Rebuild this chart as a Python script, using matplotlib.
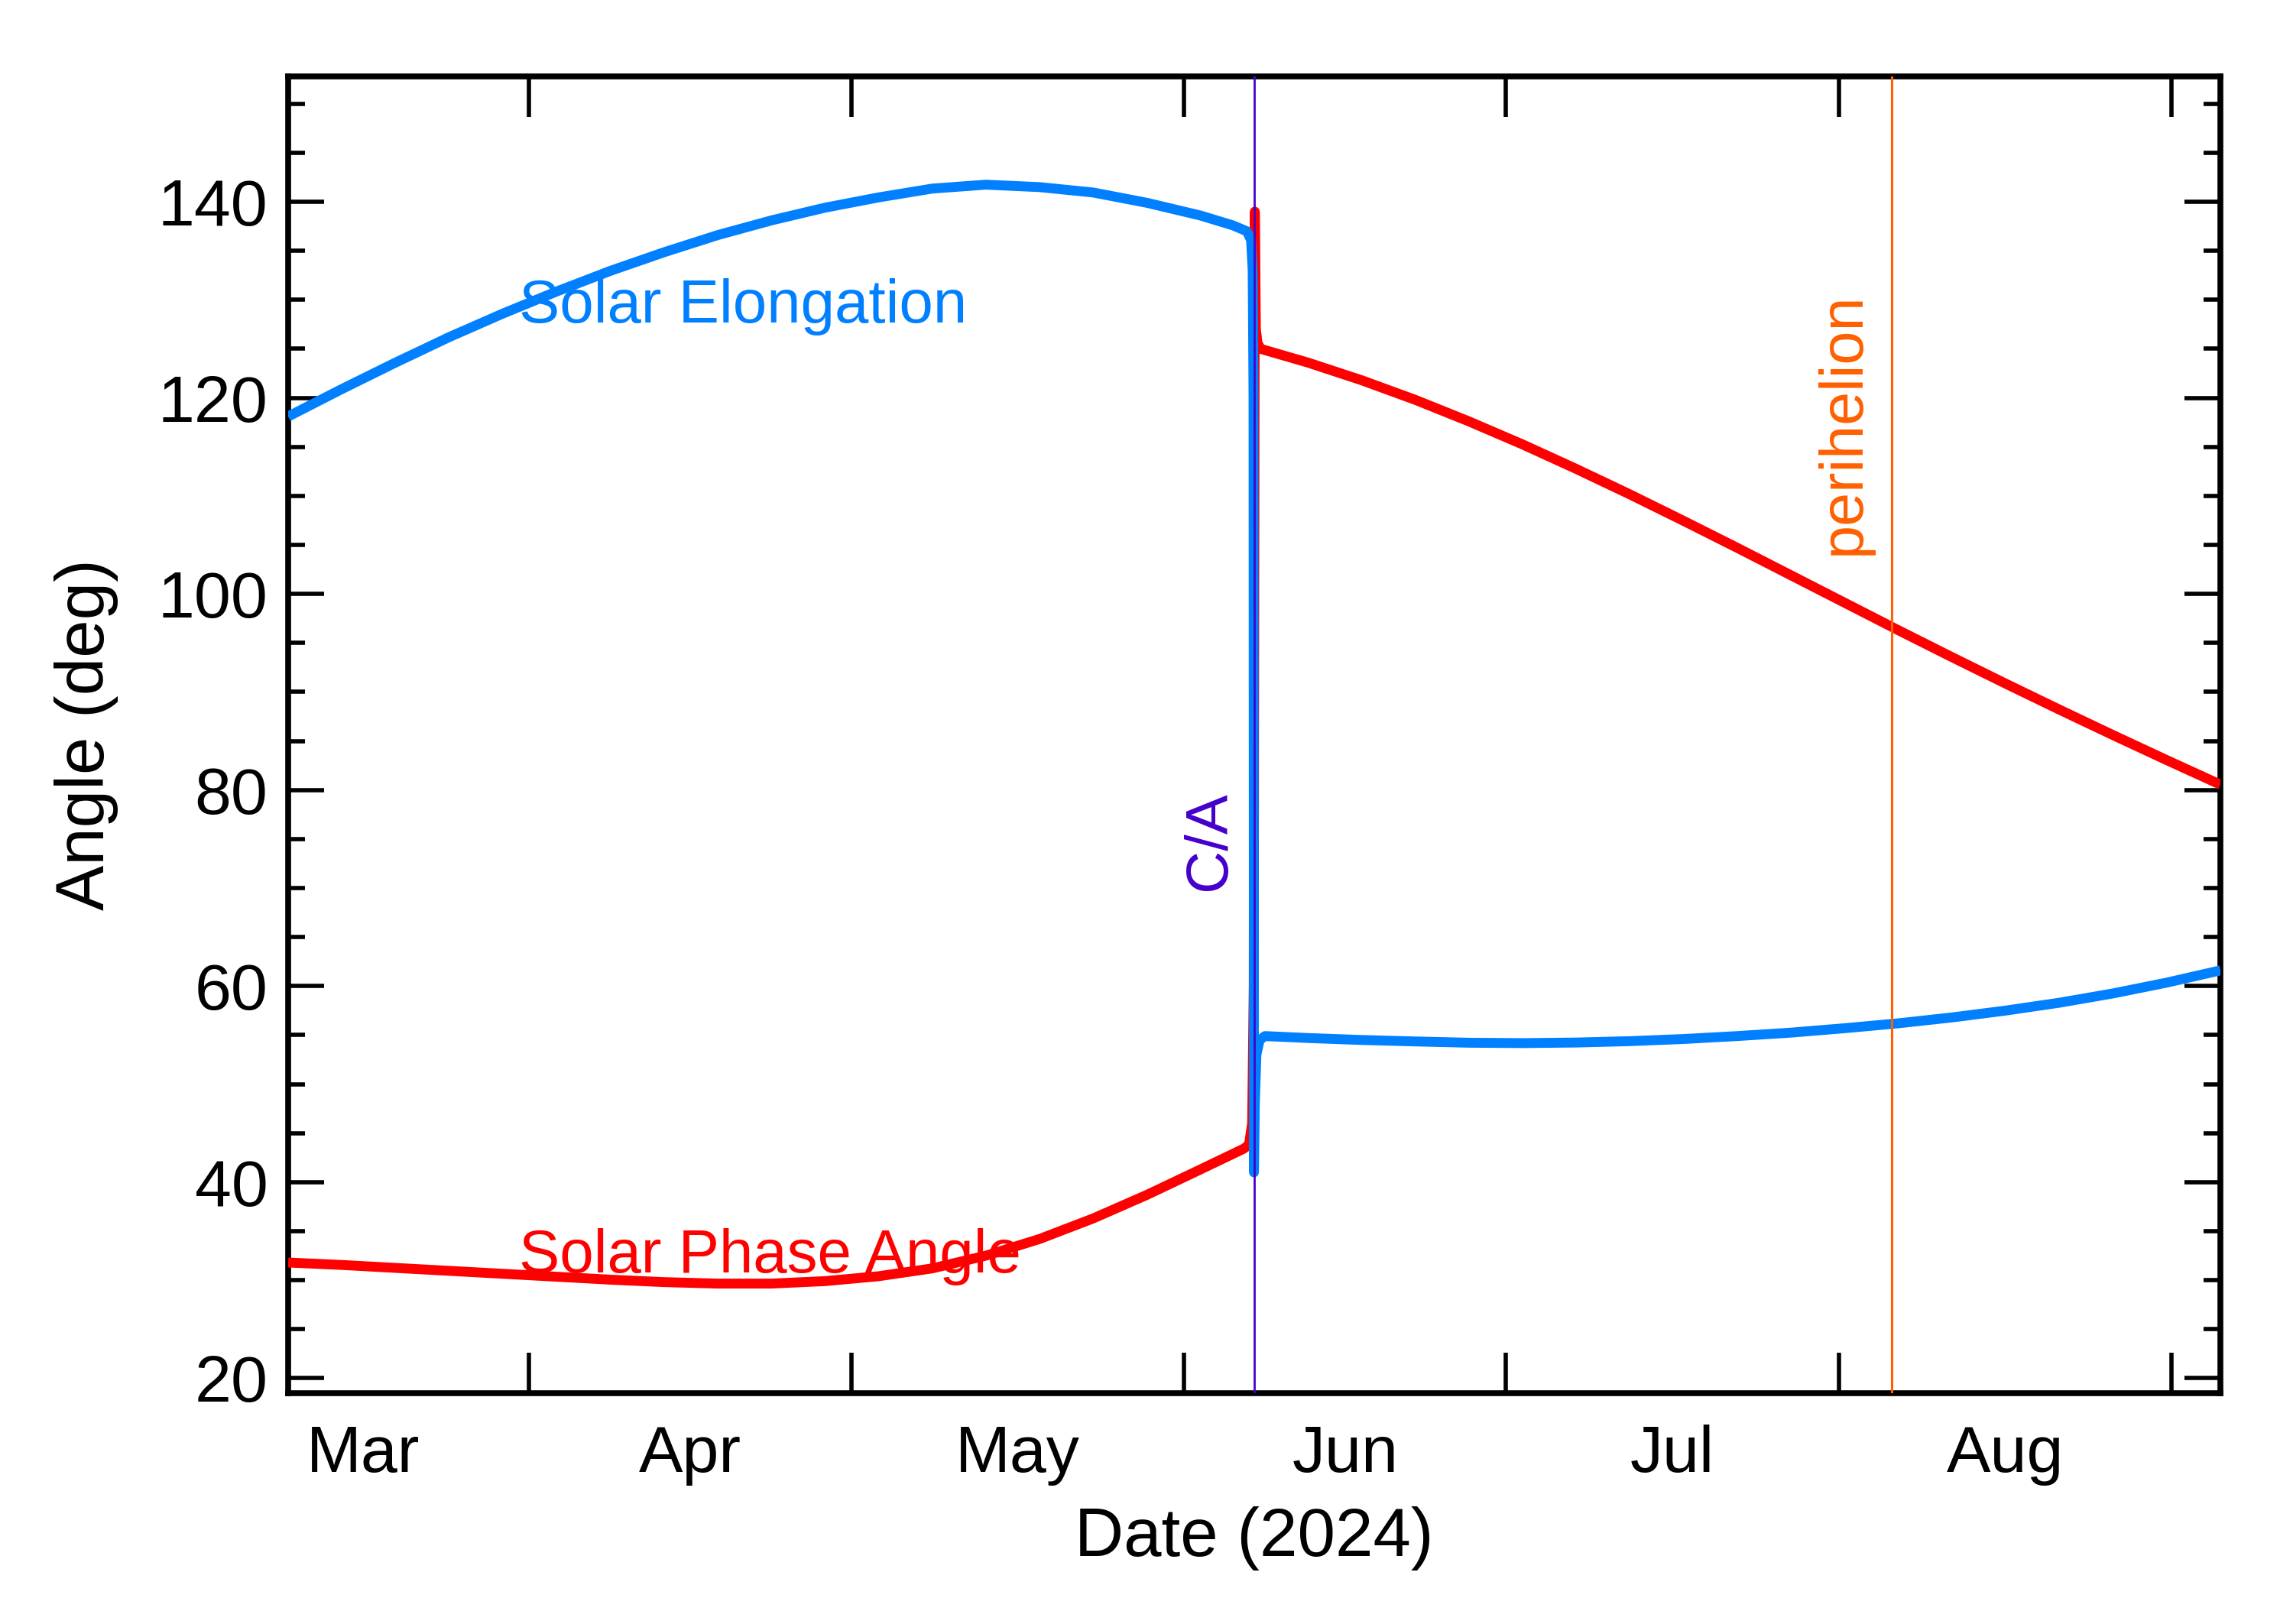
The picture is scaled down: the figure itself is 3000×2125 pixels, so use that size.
import matplotlib
matplotlib.use("Agg")
import matplotlib.pyplot as plt
from datetime import datetime, timedelta

plt.rcParams['font.family'] = ['Liberation Sans', 'DejaVu Sans']

# ---- data (days counted from the left edge of the plot) ----
START = datetime(2024, 3, 9, 13, 0)
SPAN_DAYS = 180.0
CA_DAY = 90.0
PERI_DAY = 149.36

elong_days = [0, 5, 10, 15, 20, 25, 30, 35, 40, 45, 50, 55, 60, 65, 70, 75, 80,
              85, 88, 89.3, 89.7, 89.85, 89.93, 89.97, 90.05, 90.2, 90.5, 91,
              95, 100, 105, 110, 115, 120, 125, 130, 135, 140, 145, 150,
              155, 160, 165, 170, 175, 180]
elong_vals = [118.1, 120.9, 123.6, 126.2, 128.6, 130.85, 132.95, 134.85, 136.6,
              138.1, 139.4, 140.45, 141.35, 141.75, 141.5, 140.95, 139.9,
              138.6, 137.6, 137.0, 136.1, 133.0, 120.0, 41.0, 48.0, 53.0, 54.5, 54.9,
              54.7, 54.5, 54.35, 54.22, 54.18, 54.24, 54.38, 54.6, 54.9, 55.25,
              55.7, 56.2, 56.8, 57.5, 58.3, 59.25, 60.35, 61.6]

phase_days = [0, 5, 10, 15, 20, 25, 30, 35, 40, 45, 50, 55, 60, 65, 70, 75, 80,
              85, 87, 89, 89.5, 89.8, 89.95, 90.05, 90.15, 90.3, 90.6,
              95, 100, 105, 110, 115, 120, 125, 130, 135, 140, 145, 150,
              155, 160, 165, 170, 175, 180]
phase_vals = [31.8, 31.55, 31.25, 30.95, 30.65, 30.35, 30.05, 29.8, 29.65, 29.65,
              29.9, 30.4, 31.2, 32.5, 34.2, 36.3, 38.7, 41.3, 42.35, 43.4, 43.8,
              46.0, 60.0, 139.0, 127.0, 125.6, 125.0,
              123.6, 121.8, 119.8, 117.6, 115.25, 112.75, 110.15, 107.45, 104.7,
              101.9, 99.1, 96.3, 93.55, 90.85, 88.2, 85.6, 83.05, 80.55]

month_starts = [datetime(2024, m, 1) for m in (4, 5, 6, 7, 8, 9)]
month_mids = [datetime(2024, 3, 16, 12), datetime(2024, 4, 16), datetime(2024, 5, 16, 12),
              datetime(2024, 6, 16), datetime(2024, 7, 16, 12), datetime(2024, 8, 16, 12)]
month_labels = ['Mar', 'Apr', 'May', 'Jun', 'Jul', 'Aug']

y_major = [20, 40, 60, 80, 100, 120, 140]
y_minor = [25, 30, 35, 45, 50, 55, 65, 70, 75, 85, 90, 95, 105, 110, 115, 125, 130, 135, 145, 150]

BLUE = '#0080ff'
RED = '#ff0000'
PURPLE = '#4400cc'
ORANGE = '#ff6000'


def d(day):
    return START + timedelta(days=day)


fig = plt.figure(figsize=(30, 21.25), dpi=100)
ax = fig.add_axes([0.12567, 0.14231, 0.84267, 0.81068])

ax.plot([d(x) for x in phase_days], phase_vals, color=RED, lw=9.3,
        solid_joinstyle='round', solid_capstyle='butt', zorder=3)
ax.plot([d(x) for x in elong_days], elong_vals, color=BLUE, lw=9.3,
        solid_joinstyle='round', solid_capstyle='butt', zorder=4)

ax.axvline(d(CA_DAY), color=PURPLE, lw=2.0, zorder=5)
ax.axvline(d(PERI_DAY), color=ORANGE, lw=2.2, zorder=5)

ax.text(d(21.5), 127.7, 'Solar Elongation', color=BLUE, fontsize=57.5,
        ha='left', va='baseline', zorder=6)
ax.text(d(21.5), 30.8, 'Solar Phase Angle', color=RED, fontsize=57.5,
        ha='left', va='baseline', zorder=6)
ax.text(d(87.3), 69.8, 'C/A', color=PURPLE, fontsize=56, rotation=90,
        rotation_mode='anchor', ha='left', va='baseline', zorder=6)
ax.text(d(146.4), 104.0, 'perihelion', color=ORANGE, fontsize=57, rotation=90,
        rotation_mode='anchor', ha='left', va='baseline', zorder=6)

ax.set_xlim(d(0), d(SPAN_DAYS))
ax.set_ylim(18.5, 152.8)

ax.set_xticks(month_starts)
ax.set_xticklabels([])
ax.set_xticks(month_mids, minor=True)
ax.set_xticklabels(month_labels, minor=True)
ax.set_yticks(y_major)
ax.set_yticklabels([str(v) for v in y_major])
ax.set_yticks(y_minor, minor=True)

for s in ax.spines.values():
    s.set_linewidth(5.5)

ax.tick_params(axis='x', which='major', direction='in', length=38, width=4,
               top=True, bottom=True)
ax.tick_params(axis='x', which='minor', direction='in', length=0, width=0,
               top=False, bottom=True, labelsize=62, pad=30)
ax.tick_params(axis='y', which='major', direction='in', length=34, width=4,
               left=True, right=True, labelsize=62, pad=19)
ax.tick_params(axis='y', which='minor', direction='in', length=16, width=4,
               left=True, right=True)

ax.set_xlabel('Date (2024)', fontsize=64)
ax.xaxis.set_label_coords(0.5, -0.086)
ax.xaxis.label.set_va('top')
ax.set_ylabel('Angle (deg)', fontsize=64)
ax.yaxis.set_label_coords(-0.088, 0.5)

fig.savefig('out.png', dpi=100, facecolor='white')
